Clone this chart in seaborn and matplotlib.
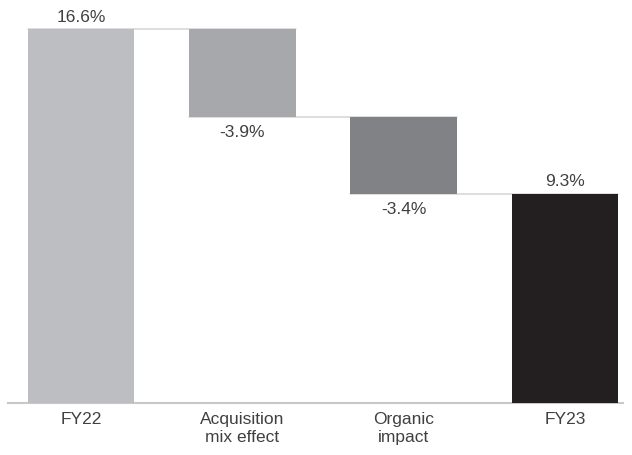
import matplotlib
matplotlib.use("Agg")
import matplotlib.pyplot as plt
import seaborn as sns
import pandas as pd

categories = ["FY22", "Acquisition\nmix effect", "Organic\nimpact", "FY23"]
values = [16.6, -3.9, -3.4, 9.3]
is_total = [True, False, False, True]
labels = ["16.6%", "-3.9%", "-3.4%", "9.3%"]
colors = ["#bdbec2", "#a7a8ab", "#808285", "#231f20"]

# Waterfall extents: totals start at zero, changes float off the running sum
bottoms, tops = [], []
running = 0.0
for v, tot in zip(values, is_total):
    if tot:
        lo, hi = 0.0, v
        running = v
    else:
        start = running
        running = running + v
        lo, hi = min(start, running), max(start, running)
    bottoms.append(lo)
    tops.append(hi)

df = pd.DataFrame({"category": categories, "top": tops, "bottom": bottoms})

sns.set_theme(style="white")
plt.rcParams["font.family"] = ["Liberation Sans", "DejaVu Sans"]

fig, ax = plt.subplots(figsize=(6.32, 4.55), dpi=100)
fig.subplots_adjust(left=0.013, right=0.986, top=0.985, bottom=0.115)

sns.barplot(data=df, x="category", y="top", hue="category", palette=colors,
            legend=False, width=0.66, saturation=1, ax=ax, zorder=3)

# Float each bar to its waterfall position
patches = sorted(ax.patches, key=lambda p: p.get_x())
for p, lo, hi in zip(patches, bottoms, tops):
    p.set_y(lo)
    p.set_height(hi - lo)
    p.set_linewidth(0)

# Connector lines between consecutive bars
for i in range(len(patches) - 1):
    level = tops[i] if (is_total[i] or values[i] >= 0) else bottoms[i]
    x0 = patches[i].get_x()
    x1 = patches[i + 1].get_x() + patches[i + 1].get_width()
    ax.plot([x0, x1], [level, level], color="#d4d4d4", lw=1.1, zorder=2)

# Value labels: above for totals, below for decreases
text_color = "#404040"
for p, v, tot, lab, lo, hi in zip(patches, values, is_total, labels, bottoms, tops):
    cx = p.get_x() + p.get_width() / 2
    if tot or v >= 0:
        ax.annotate(lab, (cx, hi), xytext=(0, 3), textcoords="offset points",
                    ha="center", va="bottom", fontsize=12.5, color=text_color)
    else:
        ax.annotate(lab, (cx, lo), xytext=(0, -6), textcoords="offset points",
                    ha="center", va="top", fontsize=12.5, color=text_color)

ax.set_xlim(-0.45, 3.36)
ax.set_ylim(0, 17.6)
ax.set_xlabel("")
ax.set_ylabel("")
ax.set_yticks([])
for s in ["top", "right", "left"]:
    ax.spines[s].set_visible(False)
ax.spines["bottom"].set_color("#c8c8c8")
ax.spines["bottom"].set_linewidth(1.5)
ax.tick_params(axis="x", length=0, pad=7, labelsize=12.5, labelcolor=text_color)
for t in ax.get_xticklabels():
    t.set_linespacing(1.25)

fig.savefig("out.png", dpi=100)
